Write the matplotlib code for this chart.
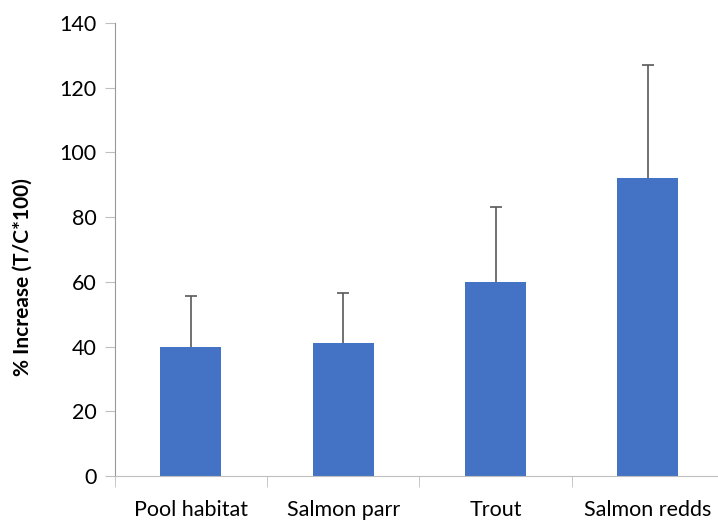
import matplotlib.pyplot as plt
import numpy as np

categories = ["Pool habitat", "Salmon parr", "Trout", "Salmon redds"]
values = [40, 41, 60, 92]
upper_err = [15.5, 15.5, 23, 35]

plt.rcParams['font.family'] = ['Lato', 'DejaVu Sans']

fig = plt.figure(figsize=(7.18, 5.2), dpi=100)
ax = fig.add_axes([114.6 / 718, 44 / 520, (718 - 114.6) / 718, (476 - 23) / 520])

x = np.arange(len(categories))
ax.bar(x, values, width=0.4, color='#4472C4', zorder=2)
eb = ax.errorbar(x, values, yerr=[np.zeros(len(values)), upper_err], fmt='none',
                 ecolor='#595959', elinewidth=1.2, capsize=4, capthick=1.2, zorder=3)
# only keep the upper cap
eb[1][0].set_visible(False)

ax.set_xlim(-0.5, 3.46)
ax.set_ylim(0, 140)
ax.set_yticks(range(0, 141, 20))
ax.set_xticks(x)
ax.set_xticklabels(categories)
ax.set_xticks(np.arange(-0.5, 3.5, 1), minor=True)
ax.tick_params(axis='x', which='major', length=0, pad=17, labelsize=15.5)
ax.tick_params(axis='x', which='minor', length=8, color='#bfbfbf', direction='out')
ax.tick_params(axis='y', length=7, color='#bfbfbf', labelsize=15.5, pad=6)

for s in ['top', 'right']:
    ax.spines[s].set_visible(False)
ax.spines['left'].set_color('#999999')
ax.spines['bottom'].set_color('#bfbfbf')

ax.set_ylabel("% Increase (T/C*100)", fontsize=15, fontweight='bold')
ax.yaxis.set_label_coords(-0.135, 0.44)

fig.savefig("out.png", dpi=100)
